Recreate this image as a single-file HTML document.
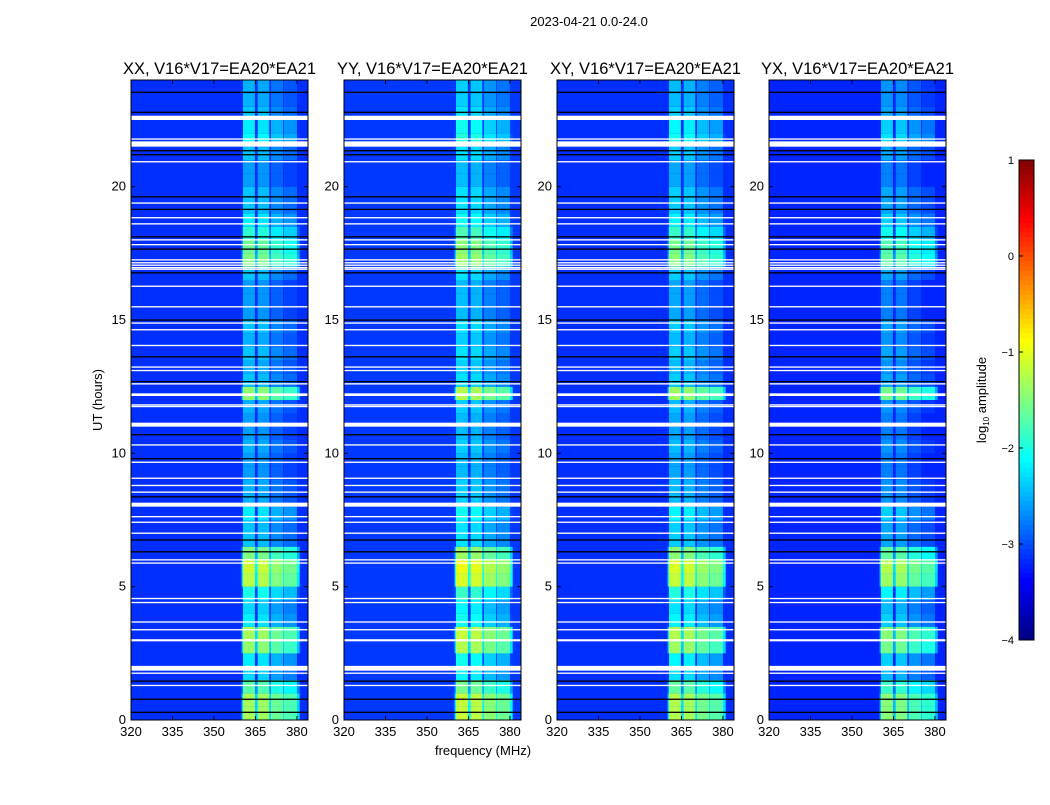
<!DOCTYPE html>
<html><head><meta charset="utf-8"><style>
body{margin:0;background:#fff;}
svg text{font-family:"Liberation Sans",sans-serif;fill:#000;}
</style></head><body>
<svg id="fig" width="1050" height="800" xmlns="http://www.w3.org/2000/svg">
<rect width="1050" height="800" fill="#fff"/>
<text x="589" y="26" font-size="13" text-anchor="middle">2023-04-21 0.0-24.0</text>
<text x="483" y="755" font-size="13" text-anchor="middle">frequency (MHz)</text>
<text transform="translate(102,400) rotate(-90)" font-size="13" text-anchor="middle">UT (hours)</text>
<g id="panels"></g>
<g id="cbar"></g>
<text transform="translate(986,400) rotate(-90)" font-size="13" text-anchor="middle">log<tspan font-size="8" dy="3">10</tspan><tspan dy="-3"> amplitude</tspan></text>
</svg>
<script>
// ---- data ----
const panelNames = ["XX","YY","XY","YX"];
const panelOffsets = [0, 0.15, 0.05, -0.15];
const backgroundLevel = [-3.15, -3.1, -3.15, -3.2];
const xTicks = [320,335,350,365,380];
const yTicks = [0,5,10,15,20];
const cbarTicks = [1,0,-1,-2,-3,-4];
const subbandStart = [360.5,365.8,370.6,375.3];
const subbandEnd = [364.8,370,375,380];
const subbandOffset = [0,-0.05,-0.3,-0.45];
// band activity (log10 amplitude) for each half hour 0..24 UT
const activity = [-1.3,-1.3,-1.7,-2.3,-2.2,-1.4,-1.3,-2.2,-2.3,-2.0,-1.2,-1.1,
 -1.5,-2.4,-2.4,-2.2,-2.5,-2.5,-2.6,-2.6,-2.5,-2.6,-2.6,-2.5,
 -1.4,-2.4,-2.5,-2.4,-2.5,-2.4,-2.6,-2.6,-2.6,-2.4,-1.5,-1.6,
 -1.9,-2.2,-2.4,-2.4,-2.6,-2.6,-2.4,-2.1,-2.2,-2.4,-2.5,-2.5];
const flaggedStart = [22.50,21.76,21.50,20.91,19.36,18.81,18.58,17.98,17.80,17.23,17.12,17.03,16.94,16.88,16.24,15.47,14.86,14.61,14.02,13.21,13.08,12.58,12.15,11.79,11.73,11.0,10.29,9.64,9.04,8.77,8.52,8.0,7.60,7.39,6.98,5.98,5.86,4.53,4.38,3.65,3.36,2.95,1.85,1.73,1.27];
const flaggedEnd   = [22.66,21.81,21.70,20.96,19.41,18.86,18.63,18.03,17.85,17.28,17.17,17.08,16.99,16.93,16.29,15.52,14.91,14.66,14.07,13.26,13.13,12.63,12.25,11.84,11.78,11.15,10.34,9.69,9.09,8.82,8.57,8.15,7.65,7.44,7.03,6.03,5.91,4.58,4.43,3.70,3.41,3.03,2.03,1.78,1.32];
const gapLines = [23.54,22.79,21.35,21.20,19.62,19.15,18.12,17.66,16.77,15.0,13.62,12.69,10.70,9.80,8.37,6.75,6.31,1.46,0.78,0.29];

// ---- helpers ----
const NS="http://www.w3.org/2000/svg";
function jet(v){const t=Math.max(0,Math.min(1,(v+4)/5));const c=x=>Math.round(255*Math.max(0,Math.min(1,1.5-Math.abs(4*t-x))));return `rgb(${c(3)},${c(2)},${c(1)})`;}
function mk(tag,attrs,parent){const e=document.createElementNS(NS,tag);for(const k in attrs)e.setAttribute(k,attrs[k]);parent.appendChild(e);return e;}
const panelLeft=[131,344,557,769], pw=177, yTop=80, yBot=720;
const fMin=320,fMax=384,tMin=0,tMax=24;
const panelsG=document.getElementById('panels');
panelNames.forEach((nm,p)=>{
  const x0=panelLeft[p];
  const X=f=>x0+(f-fMin)/(fMax-fMin)*pw;
  const Y=h=>yBot-(h-tMin)/(tMax-tMin)*(yBot-yTop);
  const g=mk('g',{},panelsG);
  
  
  const bg=mk('rect',{x:x0,y:yTop,width:pw,height:yBot-yTop,fill:jet(backgroundLevel[p])},g);
  
  
  const n=activity.length, dh=24/n;
  for(let i=0;i<n;i++){
    const y1=Y((i+1)*dh), y2=Y(i*dh);
    const band=mk('rect',{x:X(360),y:y1,width:X(381)-X(360),height:y2-y1,fill:jet(Math.max(backgroundLevel[p],activity[i]+panelOffsets[p]-1.0))},g);
    
    
    for(let s=0;s<subbandStart.length;s++){
      const c=mk('rect',{x:X(subbandStart[s]),y:y1,width:X(subbandEnd[s])-X(subbandStart[s]),height:y2-y1,fill:jet(activity[i]+panelOffsets[p]+subbandOffset[s])},g);
      
      
    }
  }
  for(let i=0;i<flaggedStart.length;i++){
    const r=mk('rect',{x:x0,y:Y(flaggedEnd[i]),width:pw,height:Math.max(1.3,Y(flaggedStart[i])-Y(flaggedEnd[i])),fill:'#fff'},g);
    
    
  }
  for(let i=0;i<gapLines.length;i++){
    const l=mk('rect',{x:x0,y:Y(gapLines[i])-0.6,width:pw,height:1.3,fill:'#000'},g);
    
    
  }
  const fr=mk('rect',{x:x0,y:yTop,width:pw,height:yBot-yTop,fill:'none',stroke:'#000','stroke-width':1},g);
  
  
  xTicks.forEach(t=>{
    mk('line',{x1:X(t),x2:X(t),y1:yBot,y2:yBot-4,stroke:'#000'},g);
    mk('line',{x1:X(t),x2:X(t),y1:yTop,y2:yTop+4,stroke:'#000'},g);
    const tx=mk('text',{x:X(t),y:yBot+16,'font-size':13,'text-anchor':'middle'},g);
    tx.textContent=t;
    
    
  });
  yTicks.forEach(t=>{
    mk('line',{x1:x0,x2:x0+4,y1:Y(t),y2:Y(t),stroke:'#000'},g);
    mk('line',{x1:x0+pw,x2:x0+pw-4,y1:Y(t),y2:Y(t),stroke:'#000'},g);
    const tx=mk('text',{x:x0-5,y:Y(t)+4,'font-size':13,'text-anchor':'end'},g);
    tx.textContent=t;
    
    
  });
  const ti=mk('text',{x:x0+pw/2,y:74,'font-size':16.5,'text-anchor':'middle'},g);
  ti.textContent=nm+', V16*V17=EA20*EA21';
  
  
});
// colorbar
const cb=document.getElementById('cbar');
const cbTop=160,cbBot=640,cbX=1019,cbW=15;
const CY=v=>cbBot-(v+4)/5*(cbBot-cbTop);
for(let k=0;k<100;k++){
  const v0=-4+5*k/100, v1=-4+5*(k+1)/100;
  mk('rect',{x:cbX,y:CY(v1),width:cbW,height:CY(v0)-CY(v1)+0.5,fill:jet((v0+v1)/2)},cb);
}
mk('rect',{x:cbX,y:cbTop,width:cbW,height:cbBot-cbTop,fill:'none',stroke:'#000'},cb);
cbarTicks.forEach(t=>{
  mk('line',{x1:cbX,x2:cbX+4,y1:CY(t),y2:CY(t),stroke:'#000'},cb);
  const tx=mk('text',{x:cbX-5,y:CY(t)+4,'font-size':11,'text-anchor':'end'},cb);
  tx.textContent=(t<0?'\u2212'+(-t):t);
  
  
});
</script>
</body></html>
